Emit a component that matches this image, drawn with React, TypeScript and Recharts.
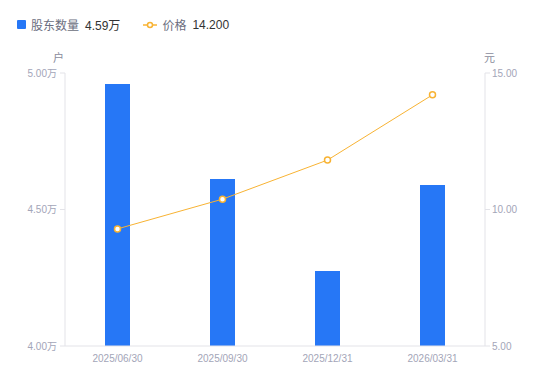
import { ComposedChart, Bar, Line, XAxis, YAxis } from 'recharts'

const dates = ['2025/06/30', '2025/09/30', '2025/12/31', '2026/03/31']
const holders = [4.96, 4.612, 4.275, 4.59]
const prices = [9.29, 10.38, 11.81, 14.2]
const leftTicks = [4, 4.5, 5]
const rightTicks = [5, 10, 15]

const data = dates.map((d, i) => ({ date: d, holders: holders[i], price: prices[i] }))

const FONT = '"Liberation Sans", Arial, "Noto Sans CJK SC", sans-serif'
const BLUE = '#2677f6'
const ORANGE = '#f8b333'
const AXIS = '#e3e3e8'
const TICK = '#a3a5b8'

export default function App() {
    return (
        <div style={{ position: 'absolute', left: 0, top: 0, width: 550, height: 381, background: '#fff', fontFamily: FONT }}>
            {/* legend */}
            <div style={{ position: 'absolute', left: 17, top: 16, display: 'flex', alignItems: 'center', fontSize: 12, whiteSpace: 'nowrap' }}>
                <span style={{ width: 9, height: 9, background: BLUE, borderRadius: 1, marginRight: 5 }} />
                <span style={{ color: '#6b6e80' }}>股东数量</span>
                <span style={{ color: '#333', marginLeft: 6 }}>4.59万</span>
                <svg width={14} height={10} style={{ marginLeft: 23, marginRight: 5 }}>
                    <line x1={0} y1={5} x2={14} y2={5} stroke={ORANGE} strokeWidth={1.5} />
                    <circle cx={7} cy={5} r={2.5} fill="#fff" stroke={ORANGE} strokeWidth={1.5} />
                </svg>
                <span style={{ color: '#6b6e80' }}>价格</span>
                <span style={{ color: '#333', marginLeft: 6 }}>14.200</span>
            </div>
            <div style={{ position: 'absolute', left: 53, top: 49, fontSize: 11, color: '#8a8c9c' }}>户</div>
            <div style={{ position: 'absolute', left: 484, top: 49, fontSize: 11, color: '#8a8c9c' }}>元</div>
            <ComposedChart width={550} height={381} data={data} margin={{ top: 73, right: 0, bottom: 0, left: 0 }}>
                <XAxis
                    dataKey="date"
                    height={35}
                    tickLine={false}
                    axisLine={{ stroke: AXIS }}
                    tick={{ fill: TICK, fontSize: 10, fontFamily: FONT }}
                    tickMargin={3}
                />
                <YAxis
                    yAxisId="left"
                    width={65}
                    domain={[4, 5]}
                    ticks={leftTicks}
                    tickFormatter={(v: number) => `${v.toFixed(2)}万`}
                    tickSize={5}
                    tickMargin={3}
                    tickLine={{ stroke: AXIS }}
                    axisLine={{ stroke: AXIS }}
                    tick={{ fill: TICK, fontSize: 10, fontFamily: FONT }}
                    allowDataOverflow
                />
                <YAxis
                    yAxisId="right"
                    orientation="right"
                    width={65}
                    domain={[5, 15]}
                    ticks={rightTicks}
                    tickFormatter={(v: number) => v.toFixed(2)}
                    tickSize={5}
                    tickMargin={2}
                    tickLine={{ stroke: AXIS }}
                    axisLine={{ stroke: AXIS }}
                    tick={{ fill: TICK, fontSize: 10, fontFamily: FONT }}
                />
                <Bar yAxisId="left" dataKey="holders" fill={BLUE} barSize={25} isAnimationActive={false} />
                <Line
                    yAxisId="right"
                    dataKey="price"
                    stroke={ORANGE}
                    strokeWidth={1}
                    dot={{ r: 3, fill: '#fff', stroke: ORANGE, strokeWidth: 1.5 }}
                    isAnimationActive={false}
                />
            </ComposedChart>
        </div>
    )
}
